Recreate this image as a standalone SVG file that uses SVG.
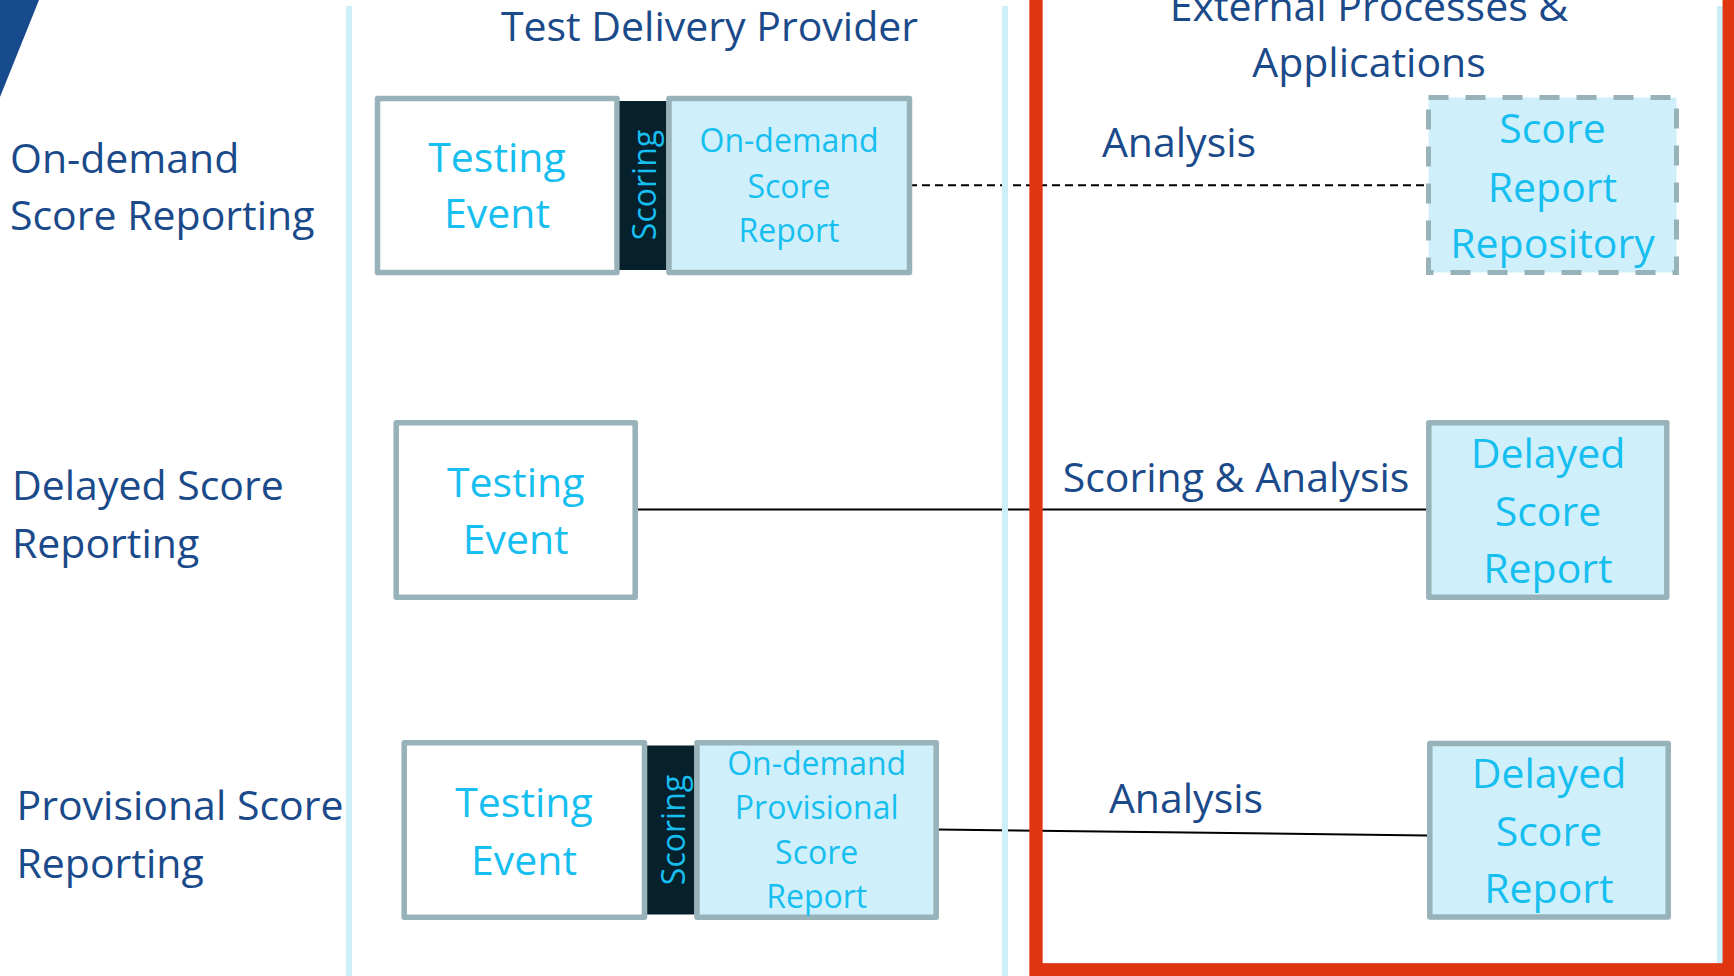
<svg xmlns="http://www.w3.org/2000/svg" width="1734" height="976" viewBox="0 0 1734 976">
<defs>
<style>
.lab{font-family:"Open Sans","Liberation Sans",sans-serif;font-size:41px;fill:#1B4A8A}
.big{font-family:"Open Sans","Liberation Sans",sans-serif;font-size:41px;fill:#17BEF0;text-anchor:middle}
.sm{font-family:"Open Sans","Liberation Sans",sans-serif;font-size:32px;fill:#17BEF0;text-anchor:middle}
.mid{text-anchor:middle}
.box{stroke:#98B2B9;stroke-width:5.5;stroke-linejoin:round}
.white{fill:#FFFFFF}
.cyan{fill:#CFF0FA}
.band{fill:#06212C}
.lane{stroke:#CCEEF8;stroke-width:6}
.conn{stroke:#000000;stroke-width:2;fill:none}
</style>
</defs>
<rect x="0" y="0" width="1734" height="976" fill="#FFFFFF"/>
<polygon points="0,0 39,0 0,97" fill="#184B8D"/>

<g id="connectors">
<line class="conn" x1="909" y1="185.3" x2="1426" y2="185.3" stroke-dasharray="8 5"/>
<line class="conn" x1="638" y1="509.5" x2="1427" y2="509.5"/>
<line class="conn" x1="937" y1="829.5" x2="1427" y2="835.5"/>
</g>

<g id="lanes">
<line class="lane" x1="349" y1="6" x2="349" y2="976"/>
<line class="lane" x1="1005" y1="6" x2="1005" y2="976"/>
<line class="lane" x1="1720" y1="6" x2="1720" y2="976"/>
<rect x="1036" y="-20" width="693.2" height="989.8" fill="none" stroke="#DF3510" stroke-width="13.3"/>
</g>

<g id="headers">
<text class="lab mid" x="709.5" y="41">Test Delivery Provider</text>
<text class="lab mid" x="1369" y="21">External Processes &amp;</text>
<text class="lab mid" x="1369" y="77">Applications</text>
</g>

<g id="row-labels">
<text class="lab" x="10" y="173">On-demand</text>
<text class="lab" x="10" y="230">Score Reporting</text>
<text class="lab" x="12" y="500">Delayed Score</text>
<text class="lab" x="12" y="557.7">Reporting</text>
<text class="lab" x="16.5" y="820">Provisional Score</text>
<text class="lab" x="16.5" y="878">Reporting</text>
</g>

<g id="edge-labels">
<text class="lab mid" x="1179" y="156.7">Analysis</text>
<text class="lab mid" x="1236" y="491.7">Scoring &amp; Analysis</text>
<text class="lab mid" x="1186" y="812.7">Analysis</text>
</g>

<g id="row1-testing-event">
<rect class="box white" x="377.5" y="98.5" width="239.5" height="174"/>
<text class="big" x="497" y="171.7">Testing</text>
<text class="big" x="497" y="228.3">Event</text>
</g>
<g id="row1-scoring">
<rect class="band" x="619.5" y="101" width="47" height="169"/>
<text class="sm" transform="translate(656,185) rotate(-90)">Scoring</text>
</g>
<g id="row1-ondemand-report">
<rect class="box cyan" x="669" y="98.5" width="240.5" height="174"/>
<text class="sm" x="789" y="152.3">On-demand</text>
<text class="sm" x="789" y="198.3">Score</text>
<text class="sm" x="789" y="242">Report</text>
</g>
<g id="score-report-repository">
<rect class="cyan" x="1428.5" y="97.5" width="248" height="175" stroke="#98B2B9" stroke-width="5" stroke-dasharray="20 17"/>
<text class="big" x="1552.5" y="143">Score</text>
<text class="big" x="1552.5" y="201.7">Report</text>
<text class="big" x="1552.5" y="258">Repository</text>
</g>

<g id="row2-testing-event">
<rect class="box white" x="396.2" y="422.8" width="239" height="174.4"/>
<text class="big" x="515.7" y="497">Testing</text>
<text class="big" x="515.7" y="554">Event</text>
</g>
<g id="row2-delayed-report">
<rect class="box cyan" x="1428.8" y="422.8" width="238" height="174.4"/>
<text class="big" x="1548" y="468.3">Delayed</text>
<text class="big" x="1548" y="526">Score</text>
<text class="big" x="1548" y="583">Report</text>
</g>

<g id="row3-testing-event">
<rect class="box white" x="404.2" y="742.8" width="240.3" height="174.4"/>
<text class="big" x="524" y="816.7">Testing</text>
<text class="big" x="524" y="875">Event</text>
</g>
<g id="row3-scoring">
<rect class="band" x="647.2" y="745.5" width="47.3" height="169"/>
<text class="sm" transform="translate(684.5,830) rotate(-90)">Scoring</text>
</g>
<g id="row3-provisional-report">
<rect class="box cyan" x="697" y="742.8" width="239.2" height="174.4"/>
<text class="sm" x="816.7" y="775">On-demand</text>
<text class="sm" x="816.7" y="819.3">Provisional</text>
<text class="sm" x="816.7" y="864">Score</text>
<text class="sm" x="816.7" y="908.3">Report</text>
</g>
<g id="row3-delayed-report">
<rect class="box cyan" x="1429.8" y="743.5" width="238.4" height="173.6"/>
<text class="big" x="1549" y="788.3">Delayed</text>
<text class="big" x="1549" y="846">Score</text>
<text class="big" x="1549" y="903.3">Report</text>
</g>
</svg>
